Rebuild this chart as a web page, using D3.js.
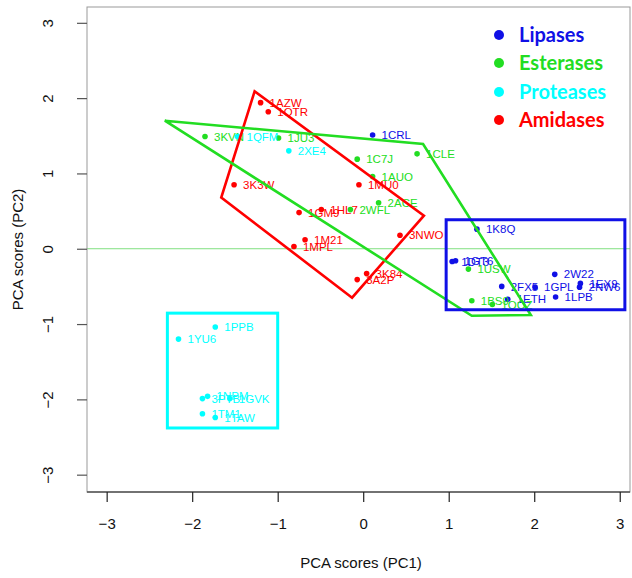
<!DOCTYPE html>
<html>
<head>
<meta charset="utf-8">
<script src="https://cdn.jsdelivr.net/npm/d3@7/dist/d3.min.js"></script>
<style>
  html, body { margin: 0; padding: 0; background: #fff; }
  svg { display: block; }
</style>
</head>
<body>
<svg id="chart" width="632" height="578"></svg>
<script>
// ---- data ----
const groups = ["Lipases", "Esterases", "Proteases", "Amidases"];
const groupColors = ["#1010e6", "#22dd22", "#00ffff", "#ff0000"];

const lipases = [
  ["1CRL", 0.11, 1.51], ["1K8Q", 1.33, 0.26], ["1DT3", 1.04, -0.17], ["1GT6", 1.08, -0.16],
  ["2W22", 2.24, -0.34], ["2FX5", 1.62, -0.50], ["1GPL", 2.01, -0.51], ["1EX9", 2.54, -0.46],
  ["2NW6", 2.53, -0.51], ["1ETH", 1.69, -0.67], ["1LPB", 2.25, -0.64]
];
const esterases = [
  ["3KVN", -1.85, 1.49], ["1JU3", -0.99, 1.47], ["1C7J", -0.07, 1.19], ["1CLE", 0.63, 1.26],
  ["1AUO", 0.11, 0.96], ["2ACE", 0.18, 0.61], ["2WFL", -0.15, 0.52], ["1USW", 1.23, -0.27],
  ["1BS9", 1.27, -0.69], ["1QOZ", 1.51, -0.74]
];
const proteases = [
  ["1QFM", -1.47, 1.49], ["2XE4", -0.87, 1.30], ["1PPB", -1.73, -1.04], ["1YU6", -2.16, -1.20],
  ["1NPM", -1.82, -1.96], ["3PTB", -1.88, -1.99], ["1GVK", -1.56, -1.99], ["1TM1", -1.88, -2.19],
  ["1TAW", -1.73, -2.24]
];
const amidases = [
  ["1AZW", -1.20, 1.94], ["1QTR", -1.11, 1.82], ["3K3W", -1.51, 0.85], ["1MU0", -0.05, 0.85],
  ["1GM9", -0.75, 0.48], ["1HL7", -0.49, 0.52], ["3NWO", 0.43, 0.18], ["1M21", -0.68, 0.12],
  ["1MPL", -0.81, 0.03], ["3K84", 0.04, -0.33], ["3A2P", -0.07, -0.41]
];
const seriesData = [lipases, esterases, proteases, amidases];

// enclosing shapes (data units)
const amidaseHull = [[-1.27, 2.09], [0.71, 0.44], [-0.13, -0.65], [-1.66, 0.68]];
const esteraseHull = [[-2.32, 1.70], [0.70, 1.39], [1.96, -0.88], [1.27, -0.89]];
const lipaseBox = [[0.97, 0.385], [3.06, -0.81]];
const proteaseBox = [[-2.29, -0.855], [-1.00, -2.38]];

const xTicks = [-3, -2, -1, 0, 1, 2, 3];
const yTicks = [-3, -2, -1, 0, 1, 2, 3];
const xLim = [-3.23, 3.12];
const yLim = [-3.23, 3.21];
const xTitle = "PCA scores (PC1)";
const yTitle = "PCA scores (PC2)";

// ---- drawing ----
const svg = d3.select("#chart");
const L = 87, R = 630, T = 7, B = 492;
const x = d3.scaleLinear().domain(xLim).range([L, R]);
const y = d3.scaleLinear().domain(yLim).range([B, T]);

// zero line
svg.append("line")
  .attr("x1", L).attr("x2", R).attr("y1", y(0)).attr("y2", y(0))
  .attr("stroke", "#80e080").attr("stroke-width", 1);

// points & labels
seriesData.forEach((pts, gi) => {
  const g = svg.append("g");
  g.selectAll("circle").data(pts).enter().append("circle")
    .attr("cx", d => x(d[1])).attr("cy", d => y(d[2])).attr("r", 2.8)
    .attr("fill", groupColors[gi]);
  g.selectAll("text").data(pts).enter().append("text")
    .attr("x", d => x(d[1]) + 9).attr("y", d => y(d[2]))
    .attr("dy", "0.36em")
    .attr("font-family", "Liberation Sans, Arial, sans-serif")
    .attr("font-size", 11.5)
    .attr("fill", groupColors[gi])
    .text(d => d[0]);
});

// hulls
const line = d3.line().x(d => x(d[0])).y(d => y(d[1])).curve(d3.curveLinearClosed);
svg.append("path").attr("d", line(amidaseHull))
  .attr("fill", "none").attr("stroke", "#ff0000").attr("stroke-width", 2.6).attr("stroke-linejoin", "miter");
svg.append("path").attr("d", line(esteraseHull))
  .attr("fill", "none").attr("stroke", "#22dd22").attr("stroke-width", 2.6).attr("stroke-linejoin", "miter");

function box(b, color) {
  svg.append("rect")
    .attr("x", x(b[0][0])).attr("y", y(b[0][1]))
    .attr("width", x(b[1][0]) - x(b[0][0])).attr("height", y(b[1][1]) - y(b[0][1]))
    .attr("fill", "none").attr("stroke", color).attr("stroke-width", 3);
}
box(lipaseBox, "#1010e6");
box(proteaseBox, "#00ffff");

// frame
svg.append("rect").attr("x", L).attr("y", T).attr("width", R - L).attr("height", B - T)
  .attr("fill", "none").attr("stroke", "#999").attr("stroke-width", 1);
svg.append("line").attr("x1", L).attr("x2", R).attr("y1", B).attr("y2", B)
  .attr("stroke", "#555").attr("stroke-width", 1.5);

// axes
const xAxis = d3.axisBottom(x).tickValues(xTicks).tickSize(10).tickPadding(16).tickFormat(d3.format("d"));
const gx = svg.append("g").attr("transform", `translate(0,${B})`).call(xAxis);
gx.select(".domain").remove();
gx.selectAll(".tick line").attr("stroke", "#222").attr("stroke-width", 1.2);
gx.selectAll(".tick text").attr("font-family", "Liberation Sans, Arial, sans-serif")
  .attr("font-size", 15).attr("fill", "#111");

const yAxis = d3.axisLeft(y).tickValues(yTicks).tickSize(10).tickPadding(0).tickFormat(d3.format("d"));
const gy = svg.append("g").attr("transform", `translate(${L},0)`).call(yAxis);
gy.select(".domain").remove();
gy.selectAll(".tick line").attr("stroke", "#555").attr("stroke-width", 1.2);
gy.selectAll(".tick text")
  .attr("font-family", "Liberation Sans, Arial, sans-serif").attr("font-size", 15).attr("fill", "#111")
  .attr("x", null).attr("dy", null)
  .attr("text-anchor", "middle")
  .attr("transform", "translate(-40,0) rotate(-90)")
  .attr("dominant-baseline", "central");

svg.append("text").attr("x", 361).attr("y", 568)
  .attr("text-anchor", "middle")
  .attr("font-family", "Liberation Sans, Arial, sans-serif").attr("font-size", 15).attr("fill", "#111")
  .text(xTitle);
svg.append("text")
  .attr("transform", `translate(23,${(T + B) / 2}) rotate(-90)`)
  .attr("text-anchor", "middle")
  .attr("font-family", "Liberation Sans, Arial, sans-serif").attr("font-size", 15).attr("fill", "#111")
  .text(yTitle);

// legend
const legY = [35, 63, 92, 120];
const leg = svg.append("g");
groups.forEach((name, i) => {
  leg.append("circle").attr("cx", 499).attr("cy", legY[i]).attr("r", 5).attr("fill", groupColors[i]);
  leg.append("text").attr("x", 519).attr("y", legY[i]).attr("dy", "0.35em")
    .attr("font-family", "Lato, 'Open Sans', sans-serif").attr("font-weight", "bold")
    .attr("font-size", 20).attr("fill", groupColors[i]).text(name);
});
</script>
</body>
</html>
